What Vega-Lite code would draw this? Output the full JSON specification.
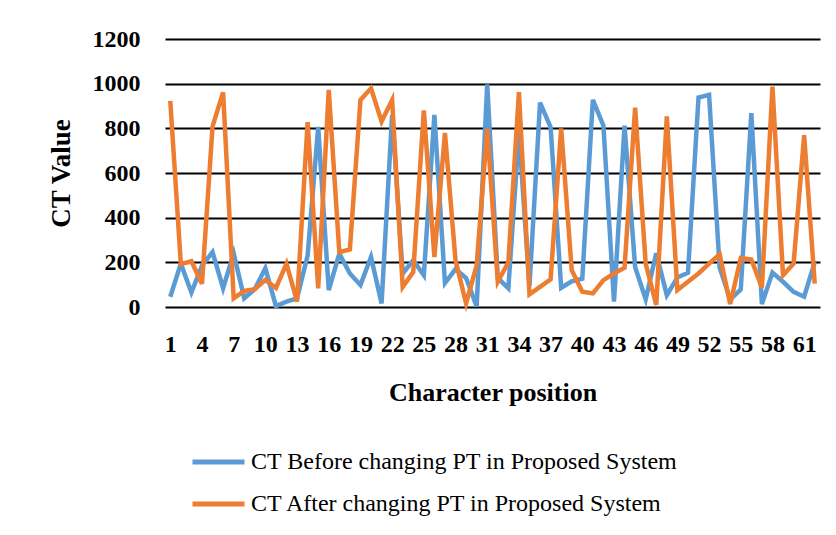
{
  "$schema": "https://vega.github.io/schema/vega-lite/v6.json",
  "autosize": {"type": "none"},
  "width": 655,
  "height": 268,
  "padding": {"left": 165, "top": 39, "right": 16, "bottom": 228},
  "background": "white",
  "config": {
    "view": {"stroke": null},
    "font": "Liberation Serif"
  },
  "data": {
    "values": [
      {"pos": 1, "before": 46, "after": 923},
      {"pos": 2, "before": 194, "after": 192},
      {"pos": 3, "before": 65, "after": 205},
      {"pos": 4, "before": 185, "after": 104},
      {"pos": 5, "before": 246, "after": 809},
      {"pos": 6, "before": 84, "after": 961},
      {"pos": 7, "before": 240, "after": 39},
      {"pos": 8, "before": 39, "after": 72},
      {"pos": 9, "before": 80, "after": 80},
      {"pos": 10, "before": 174, "after": 121},
      {"pos": 11, "before": 4, "after": 85},
      {"pos": 12, "before": 24, "after": 194},
      {"pos": 13, "before": 39, "after": 24},
      {"pos": 14, "before": 230, "after": 828},
      {"pos": 15, "before": 806, "after": 83},
      {"pos": 16, "before": 76, "after": 972},
      {"pos": 17, "before": 239, "after": 246},
      {"pos": 18, "before": 150, "after": 258},
      {"pos": 19, "before": 98, "after": 927},
      {"pos": 20, "before": 224, "after": 979},
      {"pos": 21, "before": 16, "after": 831},
      {"pos": 22, "before": 860, "after": 927},
      {"pos": 23, "before": 150, "after": 90},
      {"pos": 24, "before": 209, "after": 157},
      {"pos": 25, "before": 142, "after": 880},
      {"pos": 26, "before": 860, "after": 224},
      {"pos": 27, "before": 107, "after": 779},
      {"pos": 28, "before": 170, "after": 209},
      {"pos": 29, "before": 130, "after": 16},
      {"pos": 30, "before": 2, "after": 187},
      {"pos": 31, "before": 997, "after": 799},
      {"pos": 32, "before": 130, "after": 113},
      {"pos": 33, "before": 84, "after": 200},
      {"pos": 34, "before": 780, "after": 962},
      {"pos": 35, "before": 95, "after": 57},
      {"pos": 36, "before": 915, "after": 90},
      {"pos": 37, "before": 805, "after": 124},
      {"pos": 38, "before": 86, "after": 800},
      {"pos": 39, "before": 115, "after": 165},
      {"pos": 40, "before": 127, "after": 68},
      {"pos": 41, "before": 927, "after": 61},
      {"pos": 42, "before": 812, "after": 120},
      {"pos": 43, "before": 24, "after": 150},
      {"pos": 44, "before": 812, "after": 176},
      {"pos": 45, "before": 179, "after": 893},
      {"pos": 46, "before": 34, "after": 194},
      {"pos": 47, "before": 241, "after": 9},
      {"pos": 48, "before": 53, "after": 853},
      {"pos": 49, "before": 132, "after": 76},
      {"pos": 50, "before": 153, "after": 113},
      {"pos": 51, "before": 938, "after": 150},
      {"pos": 52, "before": 950, "after": 194},
      {"pos": 53, "before": 176, "after": 236},
      {"pos": 54, "before": 34, "after": 13},
      {"pos": 55, "before": 79, "after": 219},
      {"pos": 56, "before": 868, "after": 212},
      {"pos": 57, "before": 13, "after": 87},
      {"pos": 58, "before": 154, "after": 987},
      {"pos": 59, "before": 113, "after": 142},
      {"pos": 60, "before": 68, "after": 194},
      {"pos": 61, "before": 46, "after": 769},
      {"pos": 62, "before": 201, "after": 105}
    ]
  },
  "encoding": {
    "x": {
      "field": "pos",
      "type": "ordinal",
      "scale": {"type": "point", "padding": 0.5},
      "axis": {
        "values": [1, 4, 7, 10, 13, 16, 19, 22, 25, 28, 31, 34, 37, 40, 43, 46, 49, 52, 55, 58, 61],
        "labelAngle": 0,
        "labelOverlap": false,
        "labelFont": "Liberation Serif",
        "labelFontWeight": "bold",
        "labelFontSize": 24,
        "labelColor": "black",
        "labelPadding": 25,
        "ticks": false,
        "domain": false,
        "grid": false,
        "title": "Character position",
        "titleFont": "Liberation Serif",
        "titleFontWeight": "bold",
        "titleFontSize": 26,
        "titleColor": "black",
        "titlePadding": 23
      }
    },
    "color": {
      "type": "nominal",
      "scale": {
        "domain": ["CT Before changing PT in Proposed System", "CT After changing PT in Proposed System"],
        "range": ["#5B9BD5", "#ED7D31"]
      },
      "legend": {
        "orient": "none",
        "legendX": 25,
        "legendY": 411,
        "direction": "vertical",
        "title": null,
        "symbolType": "stroke",
        "symbolSize": 2704,
        "symbolStrokeWidth": 5,
        "clipHeight": 24,
        "rowPadding": 18,
        "labelFont": "Liberation Serif",
        "labelFontSize": 24,
        "labelColor": "black",
        "labelLimit": 0,
        "labelOffset": 4
      }
    }
  },
  "layer": [
    {
      "mark": {"type": "rule", "color": "black", "strokeWidth": 2},
      "encoding": {
        "y": {
          "field": "before",
          "type": "quantitative",
          "aggregate": "max",
          "scale": {"domain": [0, 1200], "nice": false},
          "axis": {
            "values": [0, 200, 400, 600, 800, 1000, 1200],
            "format": "d",
            "domain": false,
            "ticks": false,
            "grid": true,
            "gridColor": "black",
            "gridWidth": 2,
            "gridOpacity": 1,
            "labelFont": "Liberation Serif",
            "labelFontWeight": "bold",
            "labelFontSize": 24,
            "labelColor": "black",
            "labelPadding": 25,
            "title": "CT Value",
            "titleFont": "Liberation Serif",
            "titleFontWeight": "bold",
            "titleFontSize": 27,
            "titleColor": "black",
            "titlePadding": 17
          }
        },
        "x": null,
        "color": null,
        "opacity": {"value": 0}
      }
    },
    {
      "mark": {"type": "line", "strokeWidth": 4.5, "strokeJoin": "miter"},
      "encoding": {
        "y": {"field": "before", "type": "quantitative"},
        "color": {"datum": "CT Before changing PT in Proposed System"}
      }
    },
    {
      "mark": {"type": "line", "strokeWidth": 4.5, "strokeJoin": "miter"},
      "encoding": {
        "y": {"field": "after", "type": "quantitative"},
        "color": {"datum": "CT After changing PT in Proposed System"}
      }
    }
  ]
}
